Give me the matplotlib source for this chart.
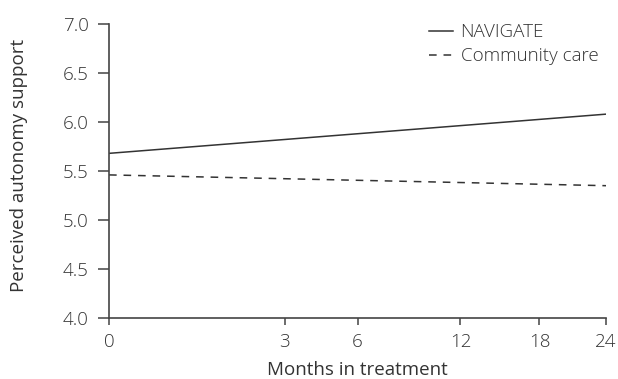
import numpy as np
import matplotlib
matplotlib.use("Agg")
import matplotlib.pyplot as plt

# months in treatment and fitted perceived autonomy support
months = [0, 24]
navigate = [5.68, 6.08]
community = [5.46, 5.35]
x_ticks = [0, 3, 6, 12, 18, 24]
y_ticks = [4.0, 4.5, 5.0, 5.5, 6.0, 6.5, 7.0]

plt.rcParams["font.family"] = ["Open Sans", "DejaVu Sans"]
plt.rcParams["font.weight"] = 300
ink = "#333333"
fs = 13.5

fig = plt.figure(figsize=(6.18, 3.79), dpi=100)
ax = fig.add_axes([0.1764, 0.161, 0.8042, 0.7757])

ax.plot(months, navigate, color=ink, lw=1.1, ls="-", label="NAVIGATE")
ax.plot(months, community, color=ink, lw=1.1, ls=(0, (5, 4.5)), label="Community care")

# time axis is square-root spaced
ax.set_xscale("function", functions=(lambda v: np.sqrt(np.clip(v, 0, None)), lambda v: v ** 2))
ax.set_xlim(0, 24)
ax.set_ylim(4.0, 7.0)
ax.set_xticks(x_ticks)
ax.set_xticklabels([str(t) for t in x_ticks])
ax.set_yticks(y_ticks)
ax.set_yticklabels([f"{t:.1f}" for t in y_ticks])
ax.minorticks_off()

for s in ["top", "right"]:
    ax.spines[s].set_visible(False)
for s in ["left", "bottom"]:
    ax.spines[s].set_color("#444444")
    ax.spines[s].set_linewidth(1.2)
ax.tick_params(direction="out", width=1.1, color="#444444", labelsize=fs, labelcolor=ink)
ax.tick_params(axis="x", length=5, pad=5.5)
ax.tick_params(axis="y", length=8, pad=6.5)

ax.set_xlabel("Months in treatment", fontsize=fs, color=ink)
ax.set_ylabel("Perceived autonomy support", fontsize=fs, color=ink)
ax.xaxis.set_label_coords(0.5, -0.145)
ax.yaxis.set_label_coords(-0.163, 0.52)

leg = ax.legend(loc="upper left", bbox_to_anchor=(0.609, 1.06), frameon=False, fontsize=fs,
                handlelength=1.28, handletextpad=0.43, labelspacing=0.33, labelcolor=ink)

fig.savefig("out.png", dpi=100)
